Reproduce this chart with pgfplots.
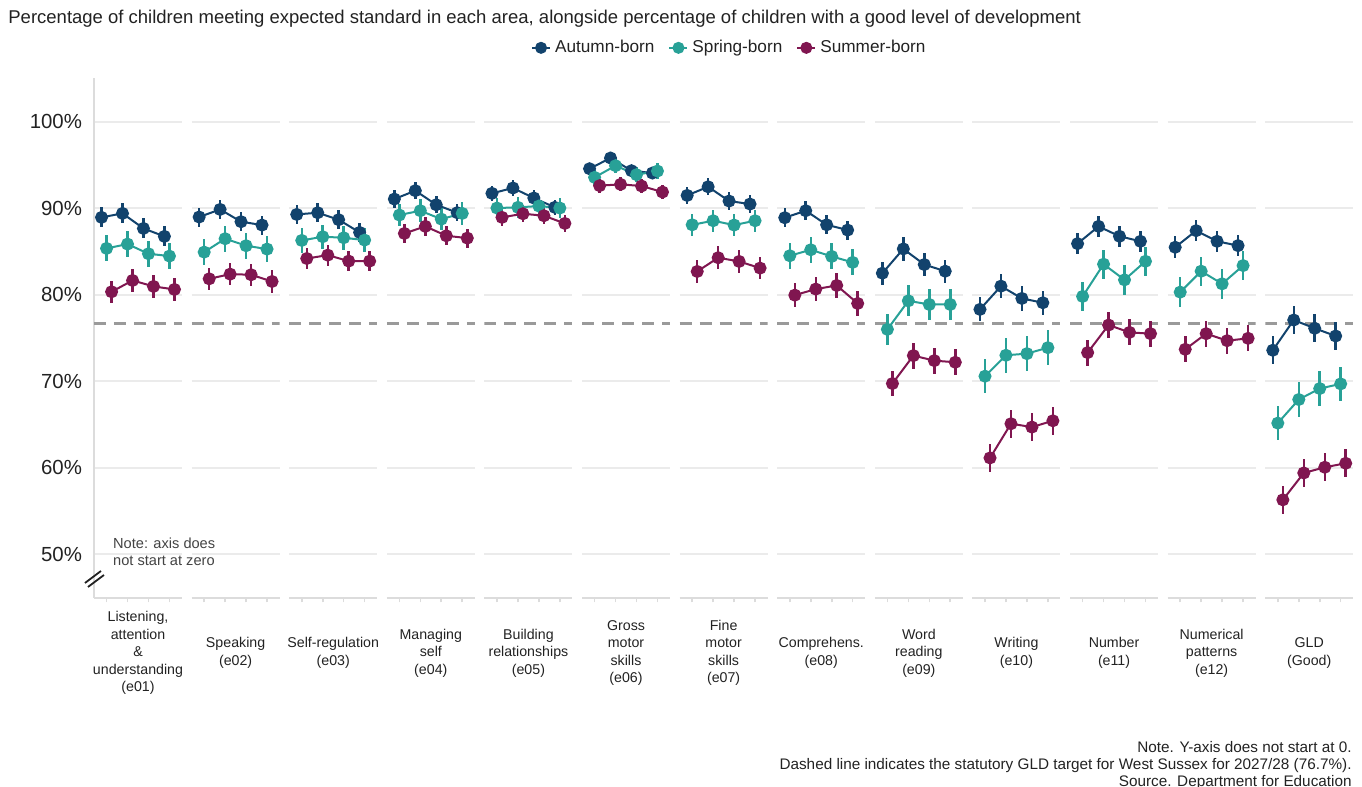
\documentclass[border=0pt]{standalone}
\usepackage{fontspec}
\setmainfont{Liberation Sans}
\usepackage{pgfplots}
\usepackage{pgfplotstable}
\pgfplotsset{compat=1.18}
\usepgfplotslibrary{groupplots}

\definecolor{autumn}{HTML}{12436D}
\definecolor{spring}{HTML}{28A197}
\definecolor{summer}{HTML}{801650}
\definecolor{gridgrey}{HTML}{EBEBEB}
\definecolor{axisgrey}{HTML}{DCDCDC}
\definecolor{textgrey}{HTML}{222222}
\definecolor{targetgrey}{HTML}{9A9A9A}

% columns: t = year index, a/s/m = autumn/spring/summer-born %, *e = interval half-width
\pgfplotstableread{
t a ae s se m me
1 88.96 1.15 85.37 1.5 80.35 1.3
2 89.42 1.15 85.87 1.5 81.66 1.3
3 87.68 1.15 84.75 1.5 80.97 1.3
4 86.76 1.15 84.48 1.5 80.62 1.3
}\tA
\pgfplotstableread{
t a ae s se m me
1 89.00 1.1 84.94 1.5 81.85 1.3
2 89.88 1.1 86.49 1.5 82.39 1.3
3 88.46 1.1 85.68 1.5 82.32 1.3
4 88.07 1.1 85.29 1.5 81.54 1.3
}\tB
\pgfplotstableread{
t a ae s se m me
1 89.30 1.1 86.29 1.4 84.20 1.2
2 89.50 1.1 86.72 1.4 84.59 1.2
3 88.69 1.1 86.60 1.4 83.90 1.2
4 87.22 1.1 86.33 1.4 83.90 1.2
}\tC
\pgfplotstableread{
t a ae s se m me
1 91.08 1.0 89.23 1.3 87.10 1.1
2 92.05 1.0 89.73 1.3 87.92 1.1
3 90.42 1.0 88.76 1.3 86.83 1.1
4 89.50 1.0 89.42 1.3 86.56 1.1
}\tD
\pgfplotstableread{
t a ae s se m me
1 91.74 0.9 90.04 1.2 88.96 1.0
2 92.36 0.9 90.12 1.2 89.38 1.0
3 91.20 0.9 90.27 1.2 89.15 1.0
4 90.12 0.9 90.04 1.2 88.26 1.0
}\tE
\pgfplotstableread{
t a ae s se m me
1 94.59 0.7 93.59 0.9 92.63 0.8
2 95.83 0.7 94.94 0.9 92.78 0.8
3 94.36 0.7 93.90 0.9 92.59 0.8
4 94.09 0.7 94.32 0.9 91.89 0.8
}\tF
\pgfplotstableread{
t a ae s se m me
1 91.50 1.0 88.10 1.3 82.70 1.3
2 92.50 1.0 88.57 1.3 84.29 1.3
3 90.85 1.0 88.07 1.3 83.86 1.3
4 90.50 1.0 88.57 1.3 83.09 1.3
}\tG
\pgfplotstableread{
t a ae s se m me
1 88.92 1.1 84.52 1.5 79.96 1.4
2 89.73 1.1 85.21 1.5 80.66 1.4
3 88.10 1.1 84.44 1.5 81.08 1.4
4 87.49 1.1 83.75 1.5 79.00 1.4
}\tH
\pgfplotstableread{
t a ae s se m me
1 82.50 1.35 76.00 1.8 69.73 1.5
2 85.31 1.35 79.30 1.8 72.96 1.5
3 83.50 1.35 78.88 1.8 72.38 1.5
4 82.73 1.35 78.88 1.8 72.19 1.5
}\tI
\pgfplotstableread{
t a ae s se m me
1 78.31 1.4 70.58 2.0 61.12 1.6
2 81.00 1.4 73.00 2.0 65.08 1.6
3 79.58 1.4 73.19 2.0 64.69 1.6
4 79.08 1.4 73.88 2.0 65.42 1.6
}\tJ
\pgfplotstableread{
t a ae s se m me
1 85.92 1.2 79.81 1.7 73.31 1.5
2 87.92 1.2 83.54 1.7 76.50 1.5
3 86.77 1.2 81.73 1.7 75.65 1.5
4 86.19 1.2 83.88 1.7 75.50 1.5
}\tK
\pgfplotstableread{
t a ae s se m me
1 85.50 1.25 80.31 1.7 73.69 1.5
2 87.42 1.25 82.73 1.7 75.50 1.5
3 86.19 1.25 81.27 1.7 74.69 1.5
4 85.69 1.25 83.38 1.7 74.96 1.5
}\tL
\pgfplotstableread{
t a ae s se m me
1 73.58 1.6 65.15 2.0 56.27 1.6
2 77.08 1.6 67.88 2.0 59.38 1.6
3 76.12 1.6 69.15 2.0 60.04 1.6
4 75.23 1.6 69.69 2.0 60.50 1.6
}\tM

\pgfplotsset{
  cohort/.style={line width=1pt, mark=*, mark size=2.75pt, mark options={solid},
    forget plot,
    error bars/.cd, y dir=both, y explicit, error mark=none,
    error bar style={line width=1.25pt}},
  inner facet/.style={yticklabels={}, y axis line style={draw=none}},
}

% one facet: target line, then the three cohorts dodged around each year
\newcommand\drawpanel[1]{%
  \addplot[targetgrey, line width=1.25pt, dash pattern=on 6pt off 4pt, forget plot]
    coordinates {(0.4,76.7) (4.6,76.7)};
  \addplot[autumn, cohort] table[x expr=\thisrow{t}-0.24, y=a, y error=ae] {#1};
  \addplot[spring, cohort] table[x expr=\thisrow{t}, y=s, y error=se] {#1};
  \addplot[summer, cohort] table[x expr=\thisrow{t}+0.24, y=m, y error=me] {#1};
}

\newcommand\catfont{\fontsize{7.1pt}{8.75pt}\selectfont}

\begin{document}
\begin{tikzpicture}
\begin{groupplot}[
  group style={group size=13 by 1, horizontal sep=4.8pt, group name=group},
  width=44pt, height=260pt, scale only axis,
  xmin=0.4, xmax=4.6, ymin=44.91, ymax=105.09,
  xtick={1,2,3,4}, xticklabels={},
  ytick={50,60,70,80,90,100},
  axis x line*=bottom, axis y line*=left,
  x axis line style={-, axisgrey, line width=1pt},
  y axis line style={-, axisgrey, line width=1pt},
  xtick style={axisgrey, line width=0.8pt},
  ytick style={draw=none},
  tick align=outside, major tick length=2.2pt,
  ymajorgrids, grid style={gridgrey, line width=1pt},
  xlabel style={at={(axis description cs:0.5,0)}, anchor=center, yshift=-27.5pt,
    align=center, font=\catfont, text=textgrey},
  yticklabel style={font=\fontsize{10.2pt}{12pt}\selectfont, text=textgrey, xshift=-0.3pt},
]
\nextgroupplot[
  yticklabels={50\%,60\%,70\%,80\%,90\%,100\%},
  xlabel={Listening,\\attention\\\&\\understanding\\(e01)},
  legend style={at={(axis description cs:7.23,1.058)}, anchor=center,
    draw=none, fill=none, legend columns=3,
    font=\fontsize{8.6pt}{10pt}\selectfont, text=textgrey,
    /tikz/every even column/.append style={column sep=5pt}},
  legend image code/.code={%
    \draw[#1, mark repeat=2, mark phase=2] plot coordinates {(0pt,0pt) (4.5pt,0pt) (9pt,0pt)};},
]
\addlegendimage{autumn, line width=1pt, mark=*, mark size=2.5pt}
\addlegendentry{Autumn-born}
\addlegendimage{spring, line width=1pt, mark=*, mark size=2.5pt}
\addlegendentry{Spring-born}
\addlegendimage{summer, line width=1pt, mark=*, mark size=2.5pt}
\addlegendentry{Summer-born}
\drawpanel{\tA}

\nextgroupplot[inner facet, xlabel={Speaking\\(e02)}]
\drawpanel{\tB}
\nextgroupplot[inner facet, xlabel={Self-regulation\\(e03)}]
\drawpanel{\tC}
\nextgroupplot[inner facet, xlabel={Managing\\self\\(e04)}]
\drawpanel{\tD}
\nextgroupplot[inner facet, xlabel={Building\\relationships\\(e05)}]
\drawpanel{\tE}
\nextgroupplot[inner facet, xlabel={Gross\\motor\\skills\\(e06)}]
\drawpanel{\tF}
\nextgroupplot[inner facet, xlabel={Fine\\motor\\skills\\(e07)}]
\drawpanel{\tG}
\nextgroupplot[inner facet, xlabel={Comprehens.\\(e08)}]
\drawpanel{\tH}
\nextgroupplot[inner facet, xlabel={Word\\reading\\(e09)}]
\drawpanel{\tI}
\nextgroupplot[inner facet, xlabel={Writing\\(e10)}]
\drawpanel{\tJ}
\nextgroupplot[inner facet, xlabel={Number\\(e11)}]
\drawpanel{\tK}
\nextgroupplot[inner facet, xlabel={Numerical\\patterns\\(e12)}]
\drawpanel{\tL}
\nextgroupplot[inner facet, xlabel={GLD\\(Good)}]
\drawpanel{\tM}
\end{groupplot}

% title
\node[anchor=base west, inner sep=0pt, text=textgrey, font=\fontsize{9.25pt}{11pt}\selectfont]
  at ([shift={(-43pt,287pt)}]group c1r1.south west)
  {Percentage of children meeting expected standard in each area, alongside percentage of children with a good level of development};

% axis break marker and note
\draw[textgrey, line width=0.9pt] ([shift={(-4.5pt,7.5pt)}]group c1r1.south west) -- ++(8pt,6pt);
\draw[textgrey, line width=0.9pt] ([shift={(-3pt,5.5pt)}]group c1r1.south west) -- ++(8pt,6pt);
\node[anchor=west, align=left, inner sep=0pt, text=textgrey!85, font=\fontsize{7.3pt}{8.6pt}\selectfont]
  at ([shift={(9.4pt,23.3pt)}]group c1r1.south west) {Note: axis does\\not start at zero};

% source notes
\begin{scope}[every node/.style={anchor=base east, inner sep=0pt, text=textgrey, font=\fontsize{7.65pt}{9pt}\selectfont}]
\node at ([shift={(629pt,-77.3pt)}]group c1r1.south west) {Note. Y-axis does not start at 0.};
\node at ([shift={(629pt,-86pt)}]group c1r1.south west) {Dashed line indicates the statutory GLD target for West Sussex for 2027/28 (76.7\%).};
\node at ([shift={(629pt,-94.3pt)}]group c1r1.south west) {Source. Department for Education};
\end{scope}

\pgfresetboundingbox
\path[use as bounding box] ([shift={(-47pt,-94.5pt)}]group c1r1.south west)
  rectangle ([shift={(634pt,299pt)}]group c1r1.south west);
\end{tikzpicture}
\end{document}
